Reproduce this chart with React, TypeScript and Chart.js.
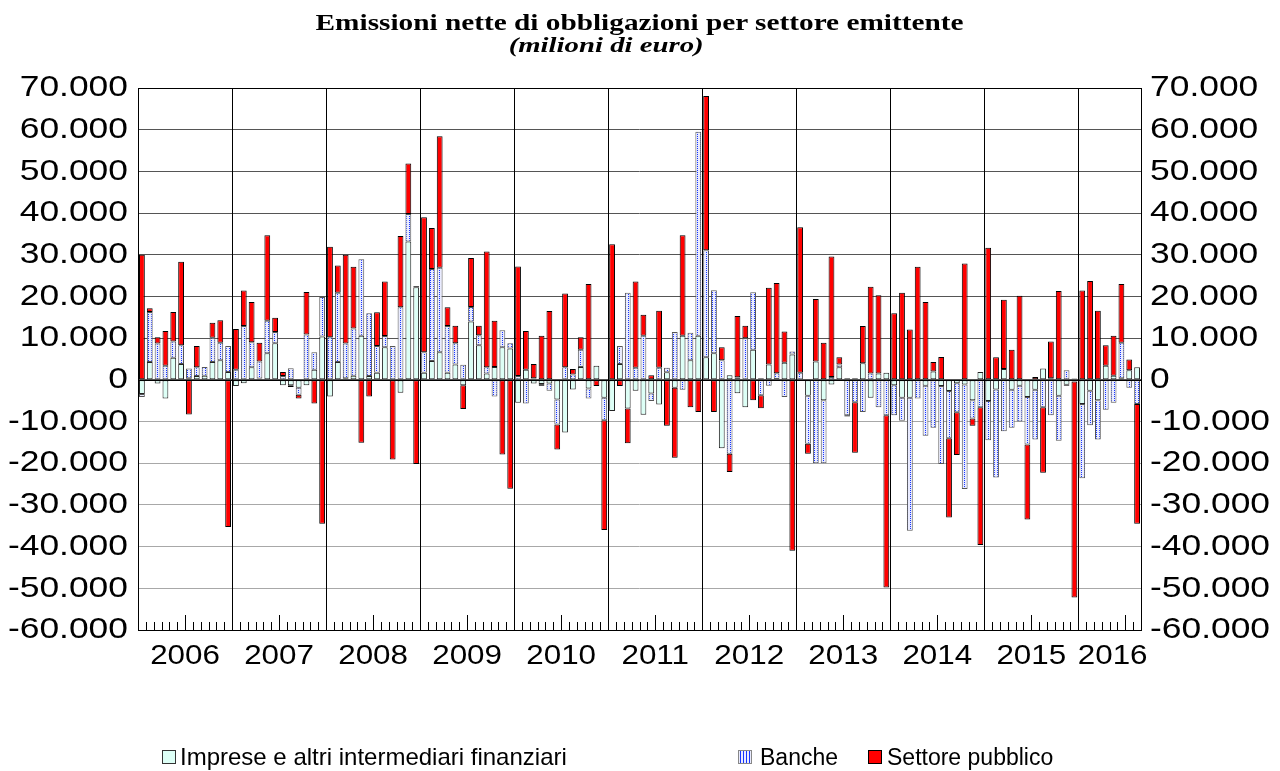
import React, { useEffect, useRef } from 'react';
import { Chart, registerables } from 'chart.js';
Chart.register(...registerables);

const YEARS = ['2006', '2007', '2008', '2009', '2010', '2011', '2012', '2013', '2014', '2015', '2016'];
const MONTHS_PER_YEAR = [12, 12, 12, 12, 12, 12, 12, 12, 12, 12, 8];

// milioni di euro, Jan 2006 .. Aug 2016
const IMPRESE = [
  -3400, 4300, -900, -4500, 5300, 3800, 400, 900, 1000, 4300, 4700, 1900,
  -1500, -800, 3000, 300, 6400, 8800, -1300, -1300, -1900, -1300, 2400, 10400,
  -4000, 4300, 400, 1000, 10600, 900, 1700, 7800, null, -3100, 33200, 22200,
  1700, 4500, 6600, 1700, 3700, -1300, 14000, 8300, 1500, 3100, 7800, 7500,
  -5500, 2400, -900, -1000, -900, -4700, -12600, -2300, 3100, -2100, 3400, -4300,
  -7500, 3800, -6900, -2600, -8400, -3300, -5900, 1800, -1900, 10600, 4700, 10600,
  5400, 6400, -16400, 1100, -3200, -6600, 7200, 400, 3700, 200, 4100, 6100,
  null, -3800, 4400, -4900, -1100, 3000, 400, 400, 4000, -4300, 1500, 1700,
  -1300, -4300, -4300, null, -1400, 2000, -1500, -2700, -800, -1100, -4900, 1900,
  -5100, -2300, 2600, -2400, -1400, -4100, -2400, 2700, 400, -3800, -1200, 300,
  -5800, -2600, -4900, 3400, 1000, 400, 2300, 3000,
];
const BANCHE = [
  -700, 12000, 8700, 3400, 3900, 4500, 2300, 2100, 2100, 5800, 4200, 6200,
  2400, 12900, 6000, 4100, 7800, 2700, 900, 2800, -1700, 10900, 4200, 9500,
  10200, 16600, 8300, 11300, 18300, 15100, 6400, 2700, 8100, 17400, 6600, 300,
  4900, 22100, 20300, 11200, 5100, 3600, 3500, 2400, 1500, -4000, 4100, 1300,
  900, -5700, 400, -500, -1700, -6000, 3000, 1300, 4100, -2400, null, -5400,
  null, 4300, 20900, 2900, 10600, -1800, 2900, 1100, 11500, -2400, 6600, 48900,
  25700, 15100, 4700, -17700, 600, 10000, 13800, -3700, -1400, 1400, -4100, 700,
  1700, -11500, -20000, -15100, 700, 700, -8500, -5400, -7700, 1500, -6600, -8500,
  -7200, -5500, -31900, -4500, -12000, -11500, -18700, -11300, -7000, -25100, -4400, -6600,
  -9400, -21100, -12300, -9100, -8600, -11400, -11900, -6600, -8500, -10800, 2300, -400,
  -17800, -8300, -9400, -7200, -5500, 8500, -1900, -5800,
];
const PUBBLICO = [
  30000, 900, 1500, 8300, 7100, 20000, -8300, 5100, null, 3600, 5400, -35300,
  9800, 8500, 9700, 4500, 20500, 3400, 1000, -400, -900, 10200, -5700, -34500,
  21700, 6500, 21300, 14800, -15100, -4000, 8100, 13100, -19100, 17100, 12100, -20200,
  32400, 9800, 31500, 4500, 4200, -5700, 11700, 2300, 27800, 11100, -17900, -26100,
  26300, 9300, 3400, 10600, 16500, -6000, 17700, 1300, 3000, 23000, -1500, -26300,
  32500, -1500, -8300, 20700, 5000, 1100, 13700, -11000, -16800, 24100, -6600, -7700,
  37000, -7700, 3100, -4400, 14700, 3000, -4900, -3100, 18400, 21600, 7500, -41000,
  34900, -2400, 15000, 8900, 28900, 1700, -300, -12100, 8900, 20800, 18800, -41300,
  16000, 20900, 12100, 27100, 18700, 2300, 5500, -19000, -10200, 27900, -1700, -33000,
  31700, 5400, 16600, 7200, 20200, -18000, 700, -15700, 8800, 21300, -200, -51800,
  21400, 23700, 16600, 4900, 9600, 14100, 2600, -28700,
];
const Y_MIN = -60000;
const Y_MAX = 70000;
const Y_STEP = 10000;

const SERIES_LABELS = ['Imprese e altri intermediari finanziari', 'Banche', 'Settore pubblico'];

const CATEGORIES: string[] = [];
YEARS.forEach((y, i) => {
  for (let m = 1; m <= MONTHS_PER_YEAR[i]; m++) CATEGORIES.push(`${y}-${m}`);
});

const SANS = '"Liberation Sans", Arial, sans-serif';
const SERIF = '"Liberation Serif", "Times New Roman", serif';

function fmt(v: number): string {
  const s = Math.round(Math.abs(v)).toString().replace(/\B(?=(\d{3})+(?!\d))/g, '.');
  return (v < 0 ? '-' : '') + s;
}

function makePattern(): CanvasPattern | string {
  const c = document.createElement('canvas');
  c.width = 3;
  c.height = 2;
  const g = c.getContext('2d');
  if (!g) return '#b0b8ff';
  g.fillStyle = '#e9ebff';
  g.fillRect(0, 0, 3, 2);
  g.fillStyle = '#1535ff';
  g.fillRect(1, 0, 1, 1);
  const p = g.createPattern(c, 'repeat');
  return p || '#b0b8ff';
}

function drawStretched(ctx: CanvasRenderingContext2D, text: string, x: number, y: number, align: CanvasTextAlign, sx: number) {
  ctx.save();
  ctx.translate(x, y);
  ctx.scale(sx, 1);
  ctx.textAlign = align;
  ctx.fillText(text, 0, 0);
  ctx.restore();
}

const decor = {
  id: 'decor',
  beforeDatasetsDraw(chart: any) {
    const { ctx, chartArea: a, scales } = chart;
    const x = scales.x;
    const total = CATEGORIES.length;
    const w = (a.right - a.left) / total;
    ctx.save();
    ctx.strokeStyle = '#000';
    ctx.lineWidth = 1;
    let start = 0;
    YEARS.forEach((_, yi) => {
      const n = MONTHS_PER_YEAR[yi];
      for (let m = 0; m < n; m++) {
        const k = start + m;
        if (k === 0) continue;
        const px = Math.round(x.getPixelForValue(k) - w / 2) + 0.5;
        ctx.beginPath();
        if (m === 0) {
          ctx.moveTo(px, a.top);
          ctx.lineTo(px, a.bottom);
        } else {
          const h = m === 6 ? 15 : 8;
          ctx.moveTo(px, a.bottom);
          ctx.lineTo(px, a.bottom - h);
        }
        ctx.stroke();
      }
      start += n;
    });
    ctx.restore();
  },
  afterDatasetsDraw(chart: any) {
    const { ctx, chartArea: a, scales } = chart;
    const y = scales.y;
    ctx.save();
    ctx.strokeStyle = '#000';
    ctx.lineWidth = 1;
    const zy = Math.round(y.getPixelForValue(0)) + 0.5;
    ctx.beginPath();
    ctx.moveTo(a.left, zy);
    ctx.lineTo(a.right, zy);
    ctx.stroke();
    ctx.strokeRect(Math.round(a.left) + 0.5, Math.round(a.top) + 0.5, Math.round(a.right - a.left), Math.round(a.bottom - a.top));

    ctx.fillStyle = '#000';
    ctx.textBaseline = 'middle';
    // value labels on both sides, from the scale's own ticks
    ctx.font = `30px ${SANS}`;
    y.ticks.forEach((t: any) => {
      const py = y.getPixelForValue(t.value);
      drawStretched(ctx, fmt(t.value), a.left - 10, py, 'right', 1.18);
      drawStretched(ctx, fmt(t.value), a.right + 9, py, 'left', 1.18);
    });
    // year labels
    const x = scales.x;
    const total = CATEGORIES.length;
    const w = (a.right - a.left) / total;
    ctx.font = `28px ${SANS}`;
    let start = 0;
    YEARS.forEach((yr, yi) => {
      const n = MONTHS_PER_YEAR[yi];
      const l = x.getPixelForValue(start) - w / 2;
      const r = x.getPixelForValue(start + n - 1) + w / 2;
      drawStretched(ctx, yr, (l + r) / 2 + (n < 12 ? 3 : 0), 656, 'center', 1.12);
      start += n;
    });
    ctx.restore();
  },
};

export default function App() {
  const ref = useRef<HTMLCanvasElement | null>(null);
  useEffect(() => {
    document.body.style.margin = '0';
    const canvas = ref.current;
    if (!canvas) return;
    const pattern = makePattern();
    const common = {
      borderWidth: 1,
      borderSkipped: false,
      barPercentage: 0.74,
      categoryPercentage: 1,
      yAxisID: 'y',
    };
    const chart = new Chart(canvas, {
      type: 'bar',
      data: {
        labels: CATEGORIES,
        datasets: [
          { ...common, label: SERIES_LABELS[0], data: IMPRESE, backgroundColor: '#ddfff6', borderColor: '#222' },
          { ...common, label: SERIES_LABELS[1], data: BANCHE, backgroundColor: pattern, borderColor: '#555' },
          { ...common, label: SERIES_LABELS[2], data: PUBBLICO, backgroundColor: '#ff0000', borderColor: '#000' },
        ] as any,
      },
      options: {
        animation: false,
        responsive: false,
        maintainAspectRatio: false,
        layout: { padding: { top: 88, bottom: 141, left: 0, right: 0 } },
        plugins: { legend: { display: false }, title: { display: false }, tooltip: { enabled: false } },
        scales: {
          x: { stacked: true, display: false, grid: { display: false } },
          y: {
            stacked: true,
            min: Y_MIN,
            max: Y_MAX,
            position: 'left',
            ticks: { stepSize: Y_STEP, display: false, autoSkip: false },
            grid: {
              drawTicks: false,
              lineWidth: 1,
              color: (c: any) => (c.tick && c.tick.value < 0 ? '#a8a8a8' : '#555555'),
            },
            border: { display: false },
            afterFit: (s: any) => { s.width = 138; },
          },
          y2: {
            min: Y_MIN,
            max: Y_MAX,
            position: 'right',
            ticks: { stepSize: Y_STEP, display: false },
            grid: { display: false, drawTicks: false },
            border: { display: false },
            afterFit: (s: any) => { s.width = 139; },
          },
        },
      } as any,
      plugins: [decor],
    });
    return () => chart.destroy();
  }, []);

  const legendText: React.CSSProperties = { position: 'absolute', top: 744, fontFamily: SANS, fontSize: 23, lineHeight: '26px', color: '#000', whiteSpace: 'nowrap' };
  const box = (left: number, bg: string, extra: React.CSSProperties = {}): React.CSSProperties => ({
    position: 'absolute', left, top: 750, width: 14, height: 14, boxSizing: 'border-box', border: '1px solid #333', background: bg, ...extra,
  });
  const dots = 'radial-gradient(circle, #1535ff 0.7px, transparent 0.8px) 0 0 / 3px 2px, #e9ebff';
  const centered: React.CSSProperties = { position: 'absolute', left: 0, width: 1280, textAlign: 'center', color: '#000' };

  return (
    <div style={{ position: 'absolute', left: 0, top: 0, width: 1280, height: 771, background: '#fff', overflow: 'hidden' }}>
      <canvas ref={ref} width={1280} height={771} style={{ position: 'absolute', left: 0, top: 0 }} />
      <div style={{ ...centered, top: 9 }}>
        <span style={{ display: 'inline-block', transform: `scaleX(1.22)`, fontFamily: SERIF, fontWeight: 'bold', fontSize: 24, lineHeight: '26px' }}>
          Emissioni nette di obbligazioni per settore emittente
        </span>
      </div>
      <div style={{ ...centered, left: -34, top: 34 }}>
        <span style={{ display: 'inline-block', transform: `scaleX(1.37)`, fontFamily: SERIF, fontWeight: 'bold', fontStyle: 'italic', fontSize: 21, lineHeight: '22px' }}>
          (milioni di euro)
        </span>
      </div>
      <div style={box(162, '#ddfff6')} />
      <div style={{ ...legendText, left: 180, fontSize: 24 }}>{SERIES_LABELS[0]}</div>
      <div style={box(738, '', { background: dots, border: '1px solid #888' })} />
      <div style={{ ...legendText, left: 760 }}>{SERIES_LABELS[1]}</div>
      <div style={box(868, '#ff0000', { border: '1px solid #000' })} />
      <div style={{ ...legendText, left: 887 }}>{SERIES_LABELS[2]}</div>
    </div>
  );
}
